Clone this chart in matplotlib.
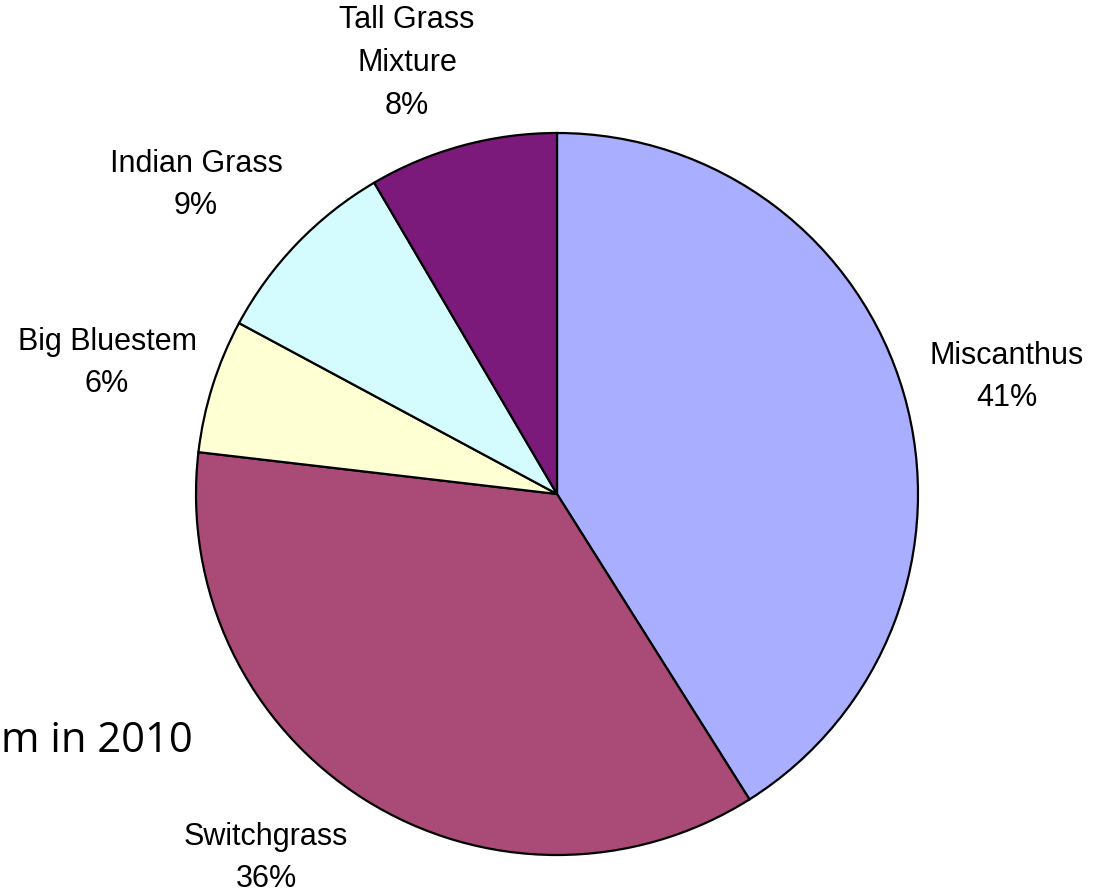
import matplotlib
matplotlib.use("Agg")
import matplotlib.pyplot as plt

# slice data, clockwise from 12 o'clock
crops = ["Miscanthus", "Switchgrass", "Big Bluestem", "Indian Grass", "Tall Grass\nMixture"]
shares = [41.05, 35.8, 6.0, 8.7, 8.45]
shown_pct = ["41%", "36%", "6%", "9%", "8%"]
colors = ["#AAAEFF", "#AA4A77", "#FFFFD4", "#D4FCFF", "#7B1A7B"]

W, H = 1109, 893
fig = plt.figure(figsize=(W / 100, H / 100), dpi=100)
ax = fig.add_axes([0, 0, 1, 1])

cx, cy, r = 557, H - 494, 361
ax.pie(shares, colors=colors, startangle=90, counterclock=False,
       center=(cx, cy), radius=r, frame=True,
       wedgeprops=dict(edgecolor="black", linewidth=1.6))
ax.set_xlim(0, W)
ax.set_ylim(0, H)
ax.set_aspect("equal")
ax.axis("off")

# label anchor points (pixel coords from top-left)
label_pos = [(1007, 377), (266, 858), (107, 363), (196, 185), (407, 63)]
for name, pct, (x, y) in zip(crops, shown_pct, label_pos):
    ax.text(x, H - y, name + "\n" + pct, ha="center", va="center",
            fontsize=22, family="Liberation Sans", linespacing=1.55)

# leftover of the slide title, partly hidden behind the chart area
ax.text(1, H - 752, "m in 2010", ha="left", va="baseline",
        fontsize=30, family="Open Sans")

fig.savefig("out.png", dpi=100)
